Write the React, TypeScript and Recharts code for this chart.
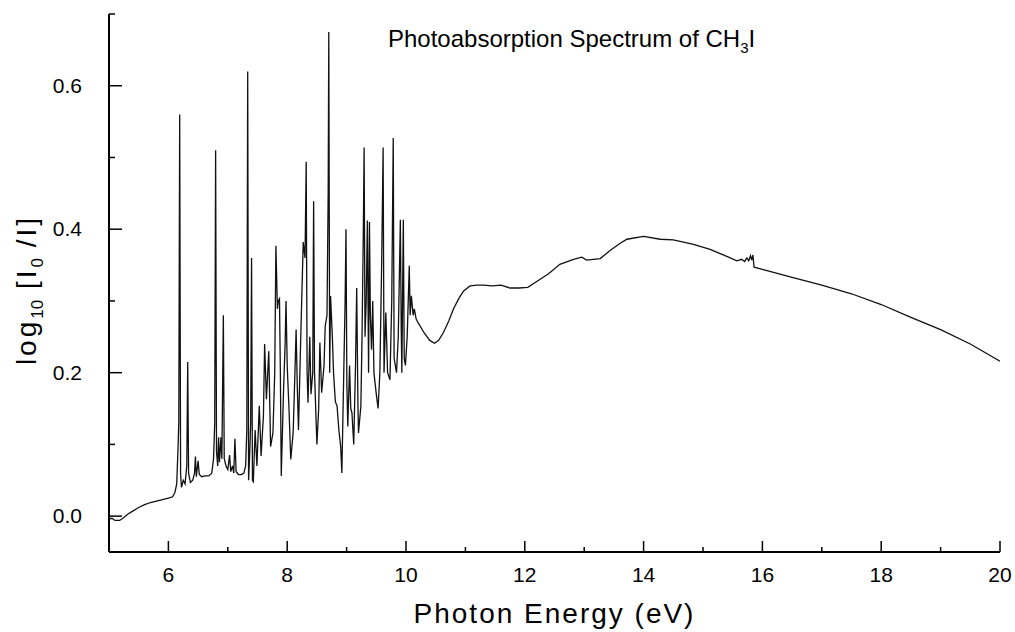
import React from 'react';
import { LineChart, Line, XAxis, YAxis } from 'recharts';

// photon energy (eV), log10[I0/I]
const onsetEdge: [number, number][] = [
  [5.0, -0.004], [5.05, -0.003], [5.1, -0.006], [5.18, -0.006], [5.25, -0.002],
  [5.32, 0.003], [5.4, 0.007], [5.5, 0.012], [5.6, 0.016], [5.7, 0.019],
  [5.8, 0.021], [5.9, 0.023], [6.0, 0.025], [6.07, 0.027], [6.11, 0.033], [6.14, 0.045],
];

const rydbergLow: [number, number][] = [
  [6.16, 0.09], [6.175, 0.13], [6.19, 0.56], [6.205, 0.06], [6.22, 0.04], [6.25, 0.05],
  [6.28, 0.045], [6.31, 0.07], [6.325, 0.215], [6.34, 0.06], [6.37, 0.047], [6.41, 0.05],
  [6.44, 0.06], [6.455, 0.083], [6.47, 0.055], [6.5, 0.077], [6.52, 0.058], [6.56, 0.055],
  [6.62, 0.056], [6.68, 0.056], [6.73, 0.06], [6.76, 0.08], [6.78, 0.13], [6.795, 0.51],
  [6.81, 0.09], [6.83, 0.07], [6.845, 0.11], [6.86, 0.075], [6.885, 0.11], [6.9, 0.08],
  [6.925, 0.28], [6.94, 0.08], [6.97, 0.07], [7.0, 0.065], [7.03, 0.085], [7.05, 0.062],
  [7.08, 0.07], [7.1, 0.06], [7.12, 0.108], [7.14, 0.062], [7.18, 0.058], [7.23, 0.058],
  [7.27, 0.06], [7.3, 0.07], [7.32, 0.12], [7.335, 0.62], [7.35, 0.05], [7.37, 0.09],
  [7.385, 0.13], [7.4, 0.36], [7.415, 0.05],
];

const rydbergHigh: [number, number][] = [
  [7.43, 0.048], [7.46, 0.12], [7.49, 0.07], [7.53, 0.154], [7.56, 0.084], [7.6, 0.14],
  [7.62, 0.24], [7.65, 0.163], [7.69, 0.23], [7.72, 0.097], [7.76, 0.116], [7.79, 0.2],
  [7.81, 0.377], [7.835, 0.289], [7.85, 0.3], [7.87, 0.303], [7.885, 0.2], [7.9, 0.056],
  [7.94, 0.18], [7.965, 0.24], [7.98, 0.3], [8.0, 0.21], [8.03, 0.15], [8.06, 0.079],
  [8.1, 0.116], [8.13, 0.2], [8.15, 0.26], [8.17, 0.18], [8.19, 0.12], [8.23, 0.256],
  [8.27, 0.382], [8.3, 0.36], [8.32, 0.494], [8.335, 0.2], [8.35, 0.158], [8.38, 0.25],
  [8.4, 0.17], [8.43, 0.2], [8.445, 0.439], [8.46, 0.2], [8.5, 0.1], [8.53, 0.15],
  [8.55, 0.242], [8.58, 0.172], [8.62, 0.21], [8.64, 0.265], [8.67, 0.28], [8.69, 0.45],
  [8.7, 0.675], [8.715, 0.2], [8.73, 0.307], [8.76, 0.25], [8.78, 0.2], [8.81, 0.16],
  [8.84, 0.153], [8.87, 0.12], [8.9, 0.097], [8.92, 0.06], [8.95, 0.19], [8.975, 0.3],
  [8.99, 0.4], [9.005, 0.18], [9.02, 0.125], [9.05, 0.21], [9.07, 0.15], [9.09, 0.144],
  [9.12, 0.1], [9.15, 0.21], [9.17, 0.318], [9.19, 0.16], [9.2, 0.116], [9.24, 0.153],
  [9.26, 0.25], [9.28, 0.386], [9.295, 0.514], [9.31, 0.25], [9.33, 0.3], [9.35, 0.412],
  [9.37, 0.2], [9.385, 0.41], [9.4, 0.28], [9.42, 0.232], [9.44, 0.3], [9.46, 0.2],
  [9.5, 0.17], [9.53, 0.15], [9.56, 0.2], [9.59, 0.35], [9.615, 0.514], [9.63, 0.2],
  [9.66, 0.284], [9.69, 0.2], [9.73, 0.19], [9.76, 0.3], [9.785, 0.527], [9.8, 0.22],
  [9.84, 0.2], [9.87, 0.25], [9.905, 0.413], [9.92, 0.26], [9.93, 0.2], [9.955, 0.413],
  [9.97, 0.22], [9.99, 0.21], [10.02, 0.25], [10.055, 0.349], [10.07, 0.28], [10.09, 0.307],
  [10.12, 0.28], [10.14, 0.289], [10.17, 0.275],
];

const continuum: [number, number][] = [
  [10.2, 0.27], [10.31, 0.255], [10.4, 0.245], [10.48, 0.241], [10.55, 0.245], [10.63, 0.256],
  [10.72, 0.272], [10.8, 0.289], [10.9, 0.305], [10.97, 0.314], [11.08, 0.321], [11.2, 0.322],
  [11.3, 0.322], [11.45, 0.321], [11.6, 0.322], [11.75, 0.318], [11.9, 0.318], [12.05, 0.319],
  [12.2, 0.327], [12.4, 0.338], [12.59, 0.351], [12.82, 0.358], [12.96, 0.361], [13.04, 0.357],
  [13.27, 0.359], [13.43, 0.37], [13.6, 0.38], [13.72, 0.386], [14.0, 0.39], [14.28, 0.386],
  [14.5, 0.385], [14.84, 0.379], [15.12, 0.372], [15.4, 0.362], [15.57, 0.356], [15.65, 0.358],
  [15.7, 0.355], [15.74, 0.36], [15.77, 0.356], [15.8, 0.363], [15.82, 0.357], [15.84, 0.364],
  [15.86, 0.347], [16.0, 0.344], [16.5, 0.333], [17.0, 0.322], [17.5, 0.31], [18.0, 0.295],
  [18.5, 0.277], [19.0, 0.26], [19.5, 0.24], [20.0, 0.216],
];

const xTicks = [6, 7, 8, 9, 10, 11, 12, 13, 14, 15, 16, 17, 18, 19, 20];
const yTicks = [0, 0.1, 0.2, 0.3, 0.4, 0.5, 0.6, 0.7];

const data = [...onsetEdge, ...rydbergLow, ...rydbergHigh, ...continuum].map(([e, a]) => ({ e, a }));

const font = '"Liberation Sans", Arial, Helvetica, sans-serif';

function XTick({ x, y, payload }: any) {
  const v = payload.value;
  const major = v % 2 === 0;
  return (
    <g>
      <line x1={x} x2={x} y1={y} y2={y - (major ? 11 : 5)} stroke="#000" strokeWidth={1.5} />
      {major && (
        <text x={x} y={y + 30} textAnchor="middle" fontSize={21} fill="#000">{v}</text>
      )}
    </g>
  );
}

function YTick({ x, y, payload }: any) {
  const v = payload.value;
  const major = Math.round(v * 10) % 2 === 0;
  return (
    <g>
      <line x1={x} x2={x + (major ? 13 : 6)} y1={y} y2={y} stroke="#000" strokeWidth={1.5} />
      {major && (
        <text x={x - 27} y={y + 7} textAnchor="end" fontSize={21} fill="#000">{v.toFixed(1)}</text>
      )}
    </g>
  );
}

const sub: React.CSSProperties = { fontSize: 17, position: 'relative', top: 7, letterSpacing: 0 };

export default function App() {
  return (
    <div style={{ position: 'absolute', left: 0, top: 0, width: 1015, height: 632, background: '#fff', fontFamily: font, color: '#000' }}>
      <LineChart width={1015} height={632} data={data} margin={{ top: 14, right: 15, left: 0, bottom: 0 }}>
        <XAxis
          dataKey="e"
          type="number"
          domain={[5, 20]}
          ticks={xTicks}
          interval={0}
          height={80}
          tickSize={0}
          tickMargin={0}
          tick={<XTick />}
          axisLine={{ stroke: '#000', strokeWidth: 2 }}
          allowDataOverflow
        />
        <YAxis
          type="number"
          domain={[-0.05, 0.7]}
          ticks={yTicks}
          interval={0}
          width={109}
          tickSize={0}
          tickMargin={0}
          tick={<YTick />}
          axisLine={{ stroke: '#000', strokeWidth: 2 }}
          allowDataOverflow
        />
        <Line type="linear" dataKey="a" stroke="#111" strokeWidth={1.3} dot={false} isAnimationActive={false} />
      </LineChart>

      <div style={{ position: 'absolute', left: 388, top: 27, fontSize: 24, lineHeight: 1, whiteSpace: 'nowrap' }}>
        Photoabsorption Spectrum of CH<span style={{ fontSize: 15, position: 'relative', top: 6 }}>3</span>I
      </div>

      <div style={{ position: 'absolute', left: 109, width: 891, top: 600, fontSize: 28, lineHeight: 1, letterSpacing: 2, textAlign: 'center', whiteSpace: 'nowrap' }}>
        Photon Energy (eV)
      </div>

      <div style={{ position: 'absolute', left: 27, top: 290, fontSize: 28, lineHeight: 1, letterSpacing: 3, whiteSpace: 'nowrap', transform: 'translate(-50%, -50%) rotate(-90deg)' }}>
        log<span style={sub}>10</span> [I<span style={sub}>0</span> /I]
      </div>
    </div>
  );
}
